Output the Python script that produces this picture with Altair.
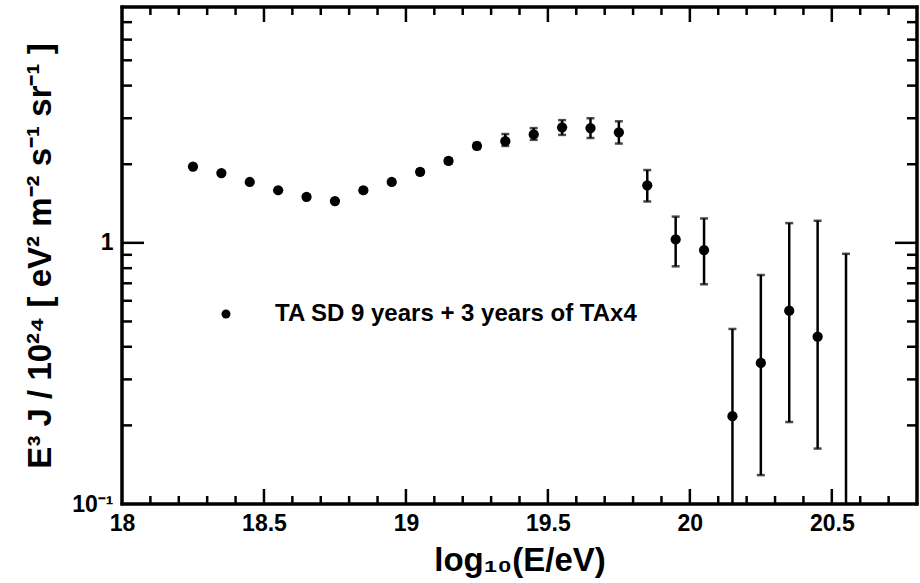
import altair as alt
import pandas as pd

# ---- data ----
energy = [18.25, 18.35, 18.45, 18.55, 18.65, 18.75, 18.85, 18.95, 19.05, 19.15,
          19.25, 19.35, 19.45, 19.55, 19.65, 19.75, 19.85, 19.95, 20.05, 20.15,
          20.25, 20.35, 20.45, 20.55]
flux = [1.96, 1.85, 1.71, 1.59, 1.50, 1.445, 1.59, 1.71, 1.87, 2.06,
        2.35, 2.45, 2.60, 2.77, 2.75, 2.65, 1.66, 1.03, 0.938, 0.217,
        0.347, 0.550, 0.437, None]
flux_lo = [1.94, 1.83, 1.69, 1.57, 1.48, 1.42, 1.56, 1.68, 1.83, 2.01,
           2.29, 2.35, 2.48, 2.59, 2.52, 2.40, 1.44, 0.813, 0.694, 0.05,
           0.129, 0.206, 0.163, 0.05]
flux_hi = [1.98, 1.87, 1.73, 1.61, 1.52, 1.47, 1.62, 1.74, 1.91, 2.11,
           2.41, 2.61, 2.75, 2.95, 3.00, 2.92, 1.90, 1.26, 1.24, 0.468,
           0.753, 1.19, 1.215, 0.908]
series_name = "TA SD 9 years + 3 years of TAx4"

# axis tick positions
x_label_values = [18, 18.5, 19, 19.5, 20, 20.5]
x_major_ticks = [18.5, 19.0, 19.5, 20.0, 20.5]
x_minor_ticks = [18.1, 18.2, 18.3, 18.4, 18.6, 18.7, 18.8, 18.9, 19.1, 19.2,
                 19.3, 19.4, 19.6, 19.7, 19.8, 19.9, 20.1, 20.2, 20.3, 20.4,
                 20.6, 20.7]
y_label_values = [0.1, 1]
y_major_ticks = [1]
y_minor_ticks = [0.2, 0.3, 0.4, 0.5, 0.6, 0.7, 0.8, 0.9, 2, 3, 4, 5, 6, 7]

W, H = 795, 497
FONT = "Liberation Sans"

df = pd.DataFrame({"E": energy, "J": flux, "lo": flux_lo, "hi": flux_hi,
                   "series": series_name})
pts = df.dropna(subset=["J"])

xs = alt.Scale(domain=[18, 20.8], nice=False, zero=False)
ys = alt.Scale(type="log", domain=[0.1, 8.0], nice=False)

X_TITLE = "log₁₀(E/eV)"
Y_TITLE = "E³ J / 10²⁴  [ eV² m⁻² s⁻¹ sr⁻¹ ]"

x_axis = alt.Axis(
    values=x_label_values, labelExpr="format(datum.value, '~g')",
    labelFont=FONT, labelFontSize=23, labelFontWeight="bold", labelColor="black",
    labelPadding=8, labelFlush=False, labelOverlap=False, labelBound=False,
    ticks=False, domain=False, grid=False,
    titleFont=FONT, titleFontSize=33, titleFontWeight="bold",
    titleColor="black", titleY=66, titleBaseline="alphabetic",
)
y_axis = alt.Axis(
    values=y_label_values, labelExpr="datum.value == 1 ? '1' : '10⁻¹'",
    labelFont=FONT, labelFontSize=23, labelFontWeight="bold", labelColor="black",
    labelPadding=9, labelFlush=False, labelOverlap=False, labelBound=False,
    ticks=False, domain=False, grid=False,
    titleFont=FONT, titleFontSize=33,
    titleFontWeight="bold", titleColor="black", titleX=-72, titleY=H / 2,
    titleAngle=-90, titleAlign="center", titleBaseline="alphabetic",
)


def X(field):
    return alt.X(field, scale=xs, axis=x_axis, title=X_TITLE)


def Y(field):
    return alt.Y(field, scale=ys, axis=y_axis, title=Y_TITLE)


bars = alt.Chart(df).mark_rule(color="black", strokeWidth=2.5, clip=True).encode(
    x=X("E:Q"), y=Y("lo:Q"), y2="hi:Q",
)
caps_hi = alt.Chart(df).mark_tick(color="black", orient="horizontal", size=8,
                                  thickness=2.5, clip=True).encode(
    x=X("E:Q"), y=Y("hi:Q"))
caps_lo = alt.Chart(df).mark_tick(color="black", orient="horizontal", size=8,
                                  thickness=2.5, clip=True).encode(
    x=X("E:Q"), y=Y("lo:Q"))

points = alt.Chart(pts).mark_circle(size=105, opacity=1).encode(
    x=X("E:Q"),
    y=Y("J:Q"),
    color=alt.Color("series:N", scale=alt.Scale(range=["black"]), title=None,
                    legend=alt.Legend(orient="none", legendX=92, legendY=295,
                                      symbolType="circle", symbolSize=80,
                                      symbolFillColor="black", symbolStrokeWidth=0,
                                      labelFont=FONT, labelFontSize=24,
                                      labelFontWeight="bold", labelColor="black",
                                      labelOffset=37, labelLimit=600, padding=0)),
)

# inward frame ticks
xt_major = pd.DataFrame({"t": x_major_ticks})
xt_minor = pd.DataFrame({"t": x_minor_ticks})
yt_major = pd.DataFrame({"t": y_major_ticks})
yt_minor = pd.DataFrame({"t": y_minor_ticks})


def xticks(d, length):
    bot = alt.Chart(d).mark_rule(color="black", strokeWidth=2.5).encode(
        x=X("t:Q"), y=alt.value(H), y2=alt.value(H - length))
    top = alt.Chart(d).mark_rule(color="black", strokeWidth=2.5).encode(
        x=X("t:Q"), y=alt.value(0), y2=alt.value(length))
    return [bot, top]


def yticks(d, length):
    left = alt.Chart(d).mark_rule(color="black", strokeWidth=2.5).encode(
        y=Y("t:Q"), x=alt.value(0), x2=alt.value(length))
    right = alt.Chart(d).mark_rule(color="black", strokeWidth=2.5).encode(
        y=Y("t:Q"), x=alt.value(W), x2=alt.value(W - length))
    return [left, right]


# plot frame
one = pd.DataFrame({"k": [0]})
frame = [
    alt.Chart(one).mark_rule(color="black", strokeWidth=3, strokeCap="square").encode(
        x=alt.value(0), x2=alt.value(W), y=alt.value(0)),
    alt.Chart(one).mark_rule(color="black", strokeWidth=3, strokeCap="square").encode(
        x=alt.value(0), x2=alt.value(W), y=alt.value(H)),
    alt.Chart(one).mark_rule(color="black", strokeWidth=3, strokeCap="square").encode(
        x=alt.value(0), y=alt.value(0), y2=alt.value(H)),
    alt.Chart(one).mark_rule(color="black", strokeWidth=3, strokeCap="square").encode(
        x=alt.value(W), y=alt.value(0), y2=alt.value(H)),
]

layers = ([points, bars, caps_hi, caps_lo]
          + xticks(xt_major, 15) + xticks(xt_minor, 8)
          + yticks(yt_major, 22) + yticks(yt_minor, 10) + frame)

chart = alt.layer(*layers).properties(
    width=W, height=H,
    padding={"left": 122, "top": 7, "right": 3, "bottom": 79},
    autosize=alt.AutoSizeParams(type="none"),
    background="white",
).configure_view(stroke="black", strokeWidth=3)

chart.save("out.html", embed_options={"renderer": "svg", "actions": False})
